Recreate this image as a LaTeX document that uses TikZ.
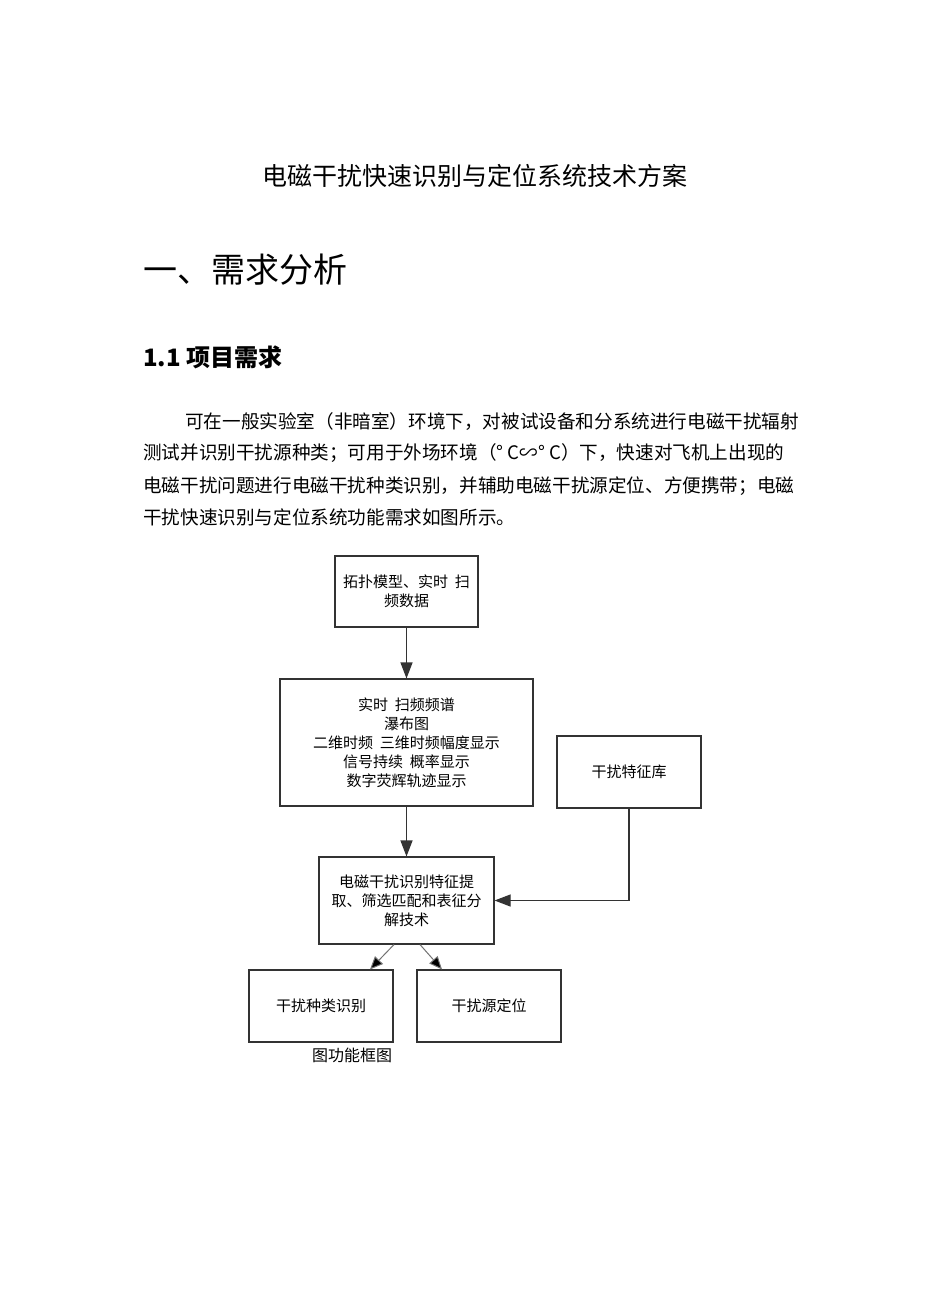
\documentclass[tikz,border=0pt]{standalone}
\usepackage{fontspec}
\setmainfont{Noto Sans CJK SC}
\usetikzlibrary{arrows.meta}
\tikzset{
  box/.style={draw=black!80, line width=1.1pt, align=center, inner sep=0pt, font=\fontsize{15}{19}\selectfont},
  flow/.style={draw=black!80, line width=1.1pt, -{Triangle[length=16pt,width=12pt]}},
  sideflow/.style={draw=black!55, line width=1pt, -{Triangle[length=13pt,width=11pt,fill=black]}},
  para/.style={anchor=west, inner sep=0pt, font=\fontsize{18.6}{22}\selectfont}
}
\begin{document}
\begin{tikzpicture}[x=1pt,y=-1pt]
\path[fill=white] (0,0) rectangle (950,1316);
\useasboundingbox (0,0) rectangle (950,1316);
% texts
\node[inner sep=0pt, font=\fontsize{25}{30}\selectfont] (title) at (475,176) {电磁干扰快速识别与定位系统技术方案};
\node[anchor=west, inner sep=0pt, font=\fontsize{34}{40}\selectfont] (h1) at (143,270) {一、需求分析};
\node[anchor=west, inner sep=0pt, font=\bfseries\fontsize{24}{28}\selectfont] (h2) at (143,357) {1.1 项目需求};
\node[para] (p1) at (185,422) {可在一般实验室（非暗室）环境下，对被试设备和分系统进行电磁干扰辐射};
\node[para] (p2) at (143,453) {测试并识别干扰源种类；可用于外场环境（° C∽° C）下，快速对飞机上出现的};
\node[para] (p3) at (143,486) {电磁干扰问题进行电磁干扰种类识别，并辅助电磁干扰源定位、方便携带；电磁};
\node[para] (p4) at (143,517) {干扰快速识别与定位系统功能需求如图所示。};
% boxes
\node[box, minimum width=143pt, minimum height=71pt] (b1) at (406.5,591.5) {拓扑模型、实时\ \ 扫\\频数据};
\node[box, minimum width=253pt, minimum height=127pt] (b2) at (406.5,742.5) {实时\ \ 扫频频谱\\瀑布图\\二维时频\ \ 三维时频幅度显示\\信号持续\ \ 概率显示\\数字荧辉轨迹显示};
\node[box, minimum width=144pt, minimum height=72pt] (b3) at (629,772) {干扰特征库};
\node[box, minimum width=175pt, minimum height=87pt] (b4) at (406.5,900.5) {电磁干扰识别特征提\\取、筛选匹配和表征分\\解技术};
\node[box, minimum width=144pt, minimum height=72pt] (b5) at (321,1006) {干扰种类识别};
\node[box, minimum width=144pt, minimum height=72pt] (b6) at (489,1006) {干扰源定位};
\node[inner sep=0pt, font=\fontsize{16}{19}\selectfont] (cap) at (352,1055) {图功能框图};
% connectors
\draw[flow] (b1.south) -- (b2.north);
\draw[flow] (b2.south) -- (b4.north);
\draw[flow] (b3.south) |- (b4.east);
\draw[sideflow] ([xshift=-12.5pt]b4.south) -- ([xshift=49pt]b5.north);
\draw[sideflow] ([xshift=13.5pt]b4.south) -- ([xshift=-47pt]b6.north);
\end{tikzpicture}
\end{document}
